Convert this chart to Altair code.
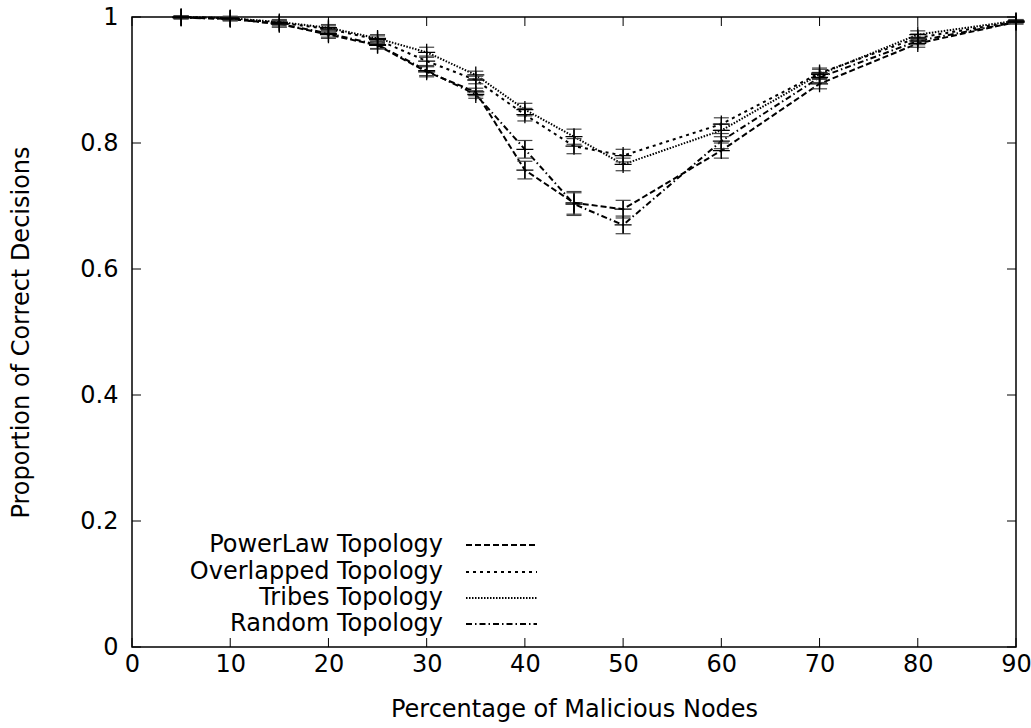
import altair as alt
import pandas as pd

# ---- data ----
xs = [5, 10, 15, 20, 25, 30, 35, 40, 45, 50, 60, 70, 80, 90]
series_names = ["PowerLaw Topology", "Overlapped Topology", "Tribes Topology", "Random Topology"]

powerlaw = [0.999, 0.997, 0.989, 0.972, 0.955, 0.913, 0.881, 0.757, 0.705, 0.695, 0.788, 0.894, 0.958, 0.992]
overlapped = [1.000, 0.998, 0.991, 0.981, 0.964, 0.930, 0.900, 0.845, 0.795, 0.780, 0.830, 0.911, 0.967, 0.993]
tribes = [1.000, 0.998, 0.992, 0.983, 0.966, 0.944, 0.908, 0.853, 0.810, 0.766, 0.820, 0.909, 0.972, 0.994]
random_t = [0.999, 0.997, 0.989, 0.974, 0.956, 0.915, 0.877, 0.790, 0.703, 0.670, 0.803, 0.904, 0.962, 0.992]

err_powerlaw = [0.002, 0.003, 0.005, 0.006, 0.006, 0.008, 0.006, 0.014, 0.018, 0.014, 0.012, 0.008, 0.006, 0.003]
err_overlapped = [0.002, 0.003, 0.004, 0.005, 0.006, 0.008, 0.006, 0.010, 0.012, 0.010, 0.010, 0.008, 0.006, 0.002]
err_tribes = [0.002, 0.003, 0.004, 0.005, 0.006, 0.008, 0.006, 0.010, 0.012, 0.010, 0.010, 0.008, 0.006, 0.002]
err_random = [0.002, 0.003, 0.005, 0.006, 0.006, 0.008, 0.006, 0.014, 0.018, 0.014, 0.012, 0.008, 0.006, 0.003]

x_ticks = [0, 10, 20, 30, 40, 50, 60, 70, 80, 90]
y_ticks = [0, 0.2, 0.4, 0.6, 0.8, 1]

values = [powerlaw, overlapped, tribes, random_t]
errors = [err_powerlaw, err_overlapped, err_tribes, err_random]

rows = []
for name, vals, errs in zip(series_names, values, errors):
    for x, v, e in zip(xs, vals, errs):
        rows.append({"series": name, "x": x, "y": v, "lo": v - e, "hi": v + e})
df = pd.DataFrame(rows)

dashes = [[6, 3], [3, 4], [1.5, 1.5], [6, 3, 1.5, 3]]

FONT = "DejaVu Sans"
FS = 24
W, H = 884, 630

xscale = alt.Scale(domain=[0, 90], nice=False, zero=False)
yscale = alt.Scale(domain=[0, 1], nice=False)

xaxis = alt.Axis(values=x_ticks, tickSize=0, domain=False, grid=False,
                 labelFont=FONT, labelFontSize=FS, labelColor="black",
                 labelPadding=5, labelOverlap=False, labelFlush=False,
                 title="Percentage of Malicious Nodes", titleFont=FONT,
                 titleFontSize=FS, titleFontWeight="normal", titleColor="black",
                 titlePadding=21)
yaxis = alt.Axis(values=y_ticks, format="~g", tickSize=0, domain=False, grid=False,
                 labelFont=FONT, labelFontSize=FS, labelColor="black",
                 labelPadding=14, labelFlush=False,
                 title="Proportion of Correct Decisions", titleFont=FONT,
                 titleFontSize=FS, titleFontWeight="normal", titleColor="black",
                 titlePadding=46)


def X(field):
    return alt.X(field, scale=xscale, axis=xaxis)


def Y(field):
    return alt.Y(field, scale=yscale, axis=yaxis)


base = alt.Chart(df)

lines = base.mark_line(color="black", strokeWidth=2).encode(
    x=X("x:Q"),
    y=Y("y:Q"),
    strokeDash=alt.StrokeDash("series:N", scale=alt.Scale(domain=series_names, range=dashes), legend=None),
    detail="series:N",
)

errbars = base.mark_rule(color="black", strokeWidth=1.3).encode(
    x=X("x:Q"), y=Y("lo:Q"), y2="hi:Q",
)

caps_lo = base.mark_point(shape="M-1,0L1,0", size=225, filled=False, color="#444",
                          strokeWidth=1.2, opacity=1).encode(x=X("x:Q"), y=Y("lo:Q"))
caps_hi = base.mark_point(shape="M-1,0L1,0", size=225, filled=False, color="#444",
                          strokeWidth=1.2, opacity=1).encode(x=X("x:Q"), y=Y("hi:Q"))
plus = base.mark_point(shape="M-1,0L1,0M0,-1L0,1", size=289, filled=False, color="black",
                       strokeWidth=1.3, opacity=1).encode(x=X("x:Q"), y=Y("y:Q"))

# inward mirrored ticks (gnuplot style)
TL = 9
xt = alt.Chart(pd.DataFrame({"x": x_ticks}))
yt = alt.Chart(pd.DataFrame({"y": y_ticks}))
xt_bottom = xt.mark_rule(color="black", strokeWidth=1).encode(
    x=X("x:Q"), y=alt.value(H), y2=alt.value(H - TL))
xt_top = xt.mark_rule(color="black", strokeWidth=1).encode(
    x=X("x:Q"), y=alt.value(0), y2=alt.value(TL))
yt_left = yt.mark_rule(color="black", strokeWidth=1).encode(
    y=Y("y:Q"), x=alt.value(0), x2=alt.value(TL))
yt_right = yt.mark_rule(color="black", strokeWidth=1).encode(
    y=Y("y:Q"), x=alt.value(W), x2=alt.value(W - TL))

# manual gnuplot-style legend
leg_layers = []
row_y = [528, 555, 581, 607]
for name, dash, ry in zip(series_names, dashes, row_y):
    ldf = pd.DataFrame({"label": [name]})
    leg_layers.append(
        alt.Chart(ldf).mark_text(align="right", baseline="middle", font=FONT,
                                 fontSize=FS, color="black").encode(
            x=alt.value(311), y=alt.value(ry), text="label:N"))
    leg_layers.append(
        alt.Chart(ldf).mark_rule(color="black", strokeWidth=1.8, strokeDash=dash).encode(
            x=alt.value(334), x2=alt.value(405), y=alt.value(ry)))

chart = alt.layer(
    lines, errbars, caps_lo, caps_hi, plus,
    xt_bottom, xt_top, yt_left, yt_right, *leg_layers
).properties(
    width=W, height=H,
    autosize=alt.AutoSizeParams(type="none"),
    padding={"left": 132, "top": 17, "right": 15, "bottom": 81},
    background="white",
).configure_view(stroke="black", strokeWidth=1.5)

chart.save("out.html", embed_options={"renderer": "svg", "actions": False})
